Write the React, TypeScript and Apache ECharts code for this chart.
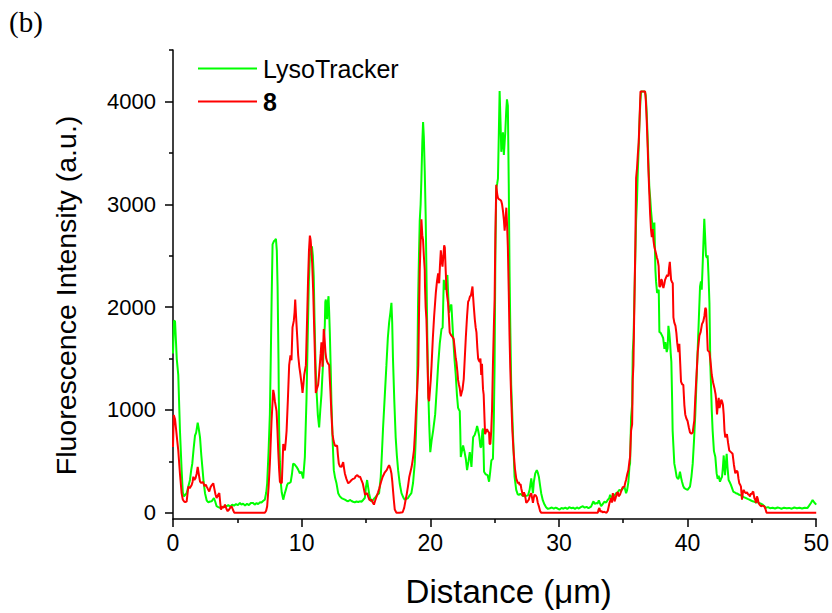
import React, { useEffect, useRef } from "react";
import * as echarts from "echarts";

// LysoTracker channel: [distance (µm), intensity (a.u.)]
const lysoTracker: [number, number][] = [
  [0,1550],[0.08,1870],[0.16,1860],[0.29,1500],[0.41,1340],[0.54,800],[0.67,415],[0.76,200],[0.85,160],[0.95,175],[1.06,190],[1.2,260],[1.32,320],[1.42,420],[1.5,480],[1.6,620],[1.71,750],[1.8,780],[1.92,877],[2.0,820],[2.1,734],[2.2,560],[2.28,447],[2.38,300],[2.49,191],[2.62,120],[2.75,102],[2.88,110],[3.0,112],[3.1,130],[3.18,144],[3.28,110],[3.39,64],[3.52,55],[3.65,48],[3.8,60],[3.95,55],[4.05,70],[4.17,64],[4.3,75],[4.45,60],[4.6,80],[4.75,70],[4.9,85],[5.05,75],[5.2,96],[5.32,80],[5.45,90],[5.6,70],[5.75,88],[5.9,75],[6.05,95],[6.23,96],[6.35,80],[6.5,95],[6.62,85],[6.75,102],[6.88,100],[7.0,115],[7.14,128],[7.25,200],[7.32,287],[7.43,600],[7.53,957],[7.6,1500],[7.67,2100],[7.74,2610],[7.84,2640],[7.93,2650],[8.0,2665],[8.07,2550],[8.13,2200],[8.2,1500],[8.25,800],[8.31,500],[8.36,319],[8.45,200],[8.57,128],[8.67,180],[8.77,223],[8.87,270],[8.95,287],[9.05,290],[9.15,300],[9.25,380],[9.34,478],[9.45,470],[9.6,447],[9.73,420],[9.86,383],[9.98,400],[10.12,335],[10.25,542],[10.38,1117],[10.47,1700],[10.56,2250],[10.64,2500],[10.72,2560],[10.8,2590],[10.87,2500],[10.94,2300],[11.0,1900],[11.08,1450],[11.16,1180],[11.26,950],[11.36,830],[11.45,1000],[11.54,1149],[11.6,1300],[11.67,1468],[11.74,1700],[11.8,1818],[11.84,2050],[11.88,2074],[11.93,1950],[11.98,1882],[12.04,2050],[12.09,2106],[12.14,1950],[12.19,1755],[12.26,1400],[12.32,1053],[12.41,700],[12.5,415],[12.6,340],[12.71,287],[12.84,191],[12.97,160],[13.1,144],[13.23,135],[13.36,128],[13.49,118],[13.62,112],[13.75,125],[13.88,115],[14.0,108],[14.13,102],[14.26,110],[14.4,105],[14.52,112],[14.65,108],[14.78,125],[14.91,144],[15.0,250],[15.09,319],[15.17,250],[15.24,191],[15.33,140],[15.42,109],[15.55,125],[15.68,144],[15.85,170],[16.02,191],[16.15,351],[16.24,580],[16.33,830],[16.46,1130],[16.59,1436],[16.7,1700],[16.8,1850],[16.9,1950],[16.98,2042],[17.04,1850],[17.1,1500],[17.2,1100],[17.31,734],[17.4,560],[17.5,415],[17.63,280],[17.76,191],[17.9,150],[18.01,128],[18.14,135],[18.27,144],[18.4,170],[18.53,191],[18.66,290],[18.79,478],[18.88,750],[18.97,1117],[19.05,2040],[19.12,2500],[19.18,2840],[19.25,3000],[19.31,3250],[19.38,3600],[19.44,3800],[19.5,3650],[19.57,3320],[19.64,2900],[19.7,2360],[19.77,1700],[19.83,1245],[19.92,850],[20.0,590],[20.1,700],[20.22,797],[20.38,957],[20.5,1200],[20.61,1436],[20.74,1650],[20.87,1786],[20.96,1800],[21.05,2265],[21.12,2200],[21.2,2170],[21.27,2250],[21.33,2313],[21.4,2100],[21.46,1946],[21.55,2000],[21.64,2026],[21.77,1723],[21.88,1500],[21.98,1340],[22.07,1150],[22.16,1021],[22.24,1000],[22.29,990],[22.33,800],[22.37,542],[22.46,600],[22.55,654],[22.65,600],[22.76,526],[22.86,415],[22.97,500],[23.07,590],[23.14,520],[23.2,447],[23.27,600],[23.33,734],[23.46,760],[23.56,800],[23.64,845],[23.72,800],[23.8,750],[23.9,638],[23.96,640],[24.05,797],[24.1,820],[24.18,399],[24.3,375],[24.45,367],[24.57,303],[24.66,400],[24.75,510],[24.87,526],[24.94,900],[25.0,1436],[25.06,2500],[25.13,3160],[25.2,3200],[25.26,3250],[25.33,3700],[25.39,4100],[25.46,3800],[25.52,3510],[25.58,3600],[25.65,3700],[25.72,3480],[25.78,3600],[25.83,3700],[25.9,3900],[25.96,4020],[26.03,3960],[26.1,3200],[26.16,2360],[26.22,1800],[26.29,1244],[26.42,797],[26.55,351],[26.68,223],[26.8,180],[26.89,175],[27.0,185],[27.1,175],[27.2,165],[27.33,160],[27.46,165],[27.6,170],[27.72,223],[27.85,335],[27.92,250],[27.98,191],[28.05,300],[28.16,383],[28.28,415],[28.36,390],[28.44,351],[28.53,270],[28.62,191],[28.75,120],[28.88,80],[29.0,55],[29.14,38],[29.3,45],[29.45,52],[29.6,40],[29.75,50],[29.9,42],[30.05,32],[30.2,48],[30.35,40],[30.5,50],[30.65,38],[30.8,55],[30.95,45],[31.1,50],[31.25,38],[31.4,52],[31.55,42],[31.7,55],[31.86,64],[32.0,50],[32.15,58],[32.3,45],[32.5,60],[32.6,90],[32.69,112],[32.79,85],[32.89,96],[33.0,90],[33.1,121],[33.2,90],[33.28,64],[33.4,85],[33.54,109],[33.67,100],[33.8,128],[33.9,140],[33.98,175],[34.08,150],[34.19,160],[34.32,170],[34.45,191],[34.57,200],[34.7,223],[34.8,215],[34.91,230],[35.0,240],[35.09,255],[35.22,191],[35.3,220],[35.4,300],[35.48,447],[35.53,478],[35.61,925],[35.69,1053],[35.74,1563],[35.8,1700],[35.87,2100],[35.94,2500],[36.0,2839],[36.07,3050],[36.13,3318],[36.2,3550],[36.26,3796],[36.33,4000],[36.39,4096],[36.5,4096],[36.6,4096],[36.68,4096],[36.75,4060],[36.82,3900],[36.9,3637],[36.96,3400],[37.03,3158],[37.1,3050],[37.16,2935],[37.22,2850],[37.29,2776],[37.36,2750],[37.42,2823],[37.5,2361],[37.55,2250],[37.63,2137],[37.68,2138],[37.76,2170],[37.81,1755],[37.89,1754],[38.02,1723],[38.1,1700],[38.2,1595],[38.28,1659],[38.38,1563],[38.45,1600],[38.51,1818],[38.58,1750],[38.64,1659],[38.69,1550],[38.74,1467],[38.8,1100],[38.84,797],[38.9,650],[38.97,478],[39.06,420],[39.15,351],[39.24,330],[39.31,335],[39.41,399],[39.5,340],[39.57,303],[39.66,260],[39.75,239],[39.88,230],[40.0,223],[40.1,240],[40.19,255],[40.3,350],[40.4,478],[40.5,700],[40.6,957],[40.7,1300],[40.79,1595],[40.88,1900],[40.97,2201],[41.04,2250],[41.1,2170],[41.17,2400],[41.23,2616],[41.3,2860],[41.36,2700],[41.43,2500],[41.5,2480],[41.56,2504],[41.63,2300],[41.7,2042],[41.77,1436],[41.82,1250],[41.88,1000],[41.95,797],[42.05,600],[42.16,542],[42.26,383],[42.34,330],[42.42,360],[42.52,303],[42.6,330],[42.68,351],[42.75,450],[42.81,558],[42.86,450],[42.91,367],[42.97,470],[43.04,574],[43.1,450],[43.19,319],[43.27,300],[43.37,271],[43.46,240],[43.55,207],[43.65,200],[43.76,191],[43.9,185],[44.02,175],[44.15,170],[44.28,160],[44.4,150],[44.54,144],[44.67,135],[44.8,128],[44.93,120],[45.06,112],[45.2,108],[45.32,100],[45.45,105],[45.57,96],[45.7,90],[45.83,80],[45.96,65],[46.09,48],[46.25,55],[46.4,45],[46.61,50],[46.8,42],[47.0,52],[47.13,48],[47.3,40],[47.5,50],[47.7,44],[47.9,48],[48.1,40],[48.3,52],[48.5,45],[48.7,50],[48.9,42],[49.1,50],[49.33,48],[49.45,70],[49.59,96],[49.72,124],[49.85,100],[50,80]
];

// Compound 8 channel: [distance (µm), intensity (a.u.)]
const probe8: [number, number][] = [
  [0,640],[0.06,950],[0.16,909],[0.25,800],[0.33,700],[0.41,606],[0.54,380],[0.67,191],[0.76,130],[0.85,112],[0.95,105],[1.06,109],[1.19,255],[1.3,240],[1.45,271],[1.52,300],[1.58,351],[1.66,320],[1.76,340],[1.84,380],[1.92,447],[2.0,380],[2.1,303],[2.2,290],[2.3,300],[2.36,290],[2.45,260],[2.55,275],[2.62,255],[2.72,230],[2.82,207],[2.92,250],[3.02,270],[3.13,287],[3.22,230],[3.3,180],[3.39,144],[3.48,170],[3.6,191],[3.67,100],[3.73,32],[3.85,60],[3.95,50],[4.04,80],[4.15,40],[4.25,16],[4.35,30],[4.45,50],[4.56,64],[4.66,30],[4.75,5],[4.81,0],[5.5,0],[6.3,0],[7.14,0],[7.24,20],[7.32,64],[7.43,250],[7.53,478],[7.66,893],[7.79,1196],[7.86,1150],[7.92,1085],[8.05,989],[8.12,800],[8.18,606],[8.25,420],[8.31,303],[8.38,290],[8.46,293],[8.52,500],[8.57,670],[8.63,640],[8.7,606],[8.77,700],[8.83,797],[8.93,1100],[9.03,1436],[9.13,1532],[9.21,1484],[9.29,1803],[9.39,1866],[9.45,1950],[9.5,2074],[9.55,1950],[9.6,1835],[9.67,1680],[9.73,1532],[9.82,1420],[9.91,1340],[10.0,1250],[10.07,1165],[10.14,1250],[10.2,1340],[10.33,1436],[10.43,1914],[10.5,2265],[10.57,2550],[10.64,2696],[10.7,2650],[10.76,2550],[10.82,2424],[10.9,2150],[10.97,1818],[11.05,1450],[11.1,1165],[11.17,1200],[11.28,1244],[11.35,1340],[11.41,1436],[11.48,1550],[11.54,1659],[11.58,1550],[11.62,1420],[11.67,1600],[11.72,1786],[11.78,1700],[11.85,1563],[11.91,1500],[11.98,1468],[12.06,1450],[12.14,1436],[12.19,1300],[12.24,1180],[12.32,950],[12.4,765],[12.48,700],[12.58,654],[12.67,650],[12.76,654],[12.82,560],[12.89,478],[12.98,450],[13.1,447],[13.16,470],[13.23,494],[13.3,430],[13.36,383],[13.48,330],[13.62,287],[13.75,300],[13.88,319],[14.0,330],[14.12,335],[14.2,355],[14.33,367],[14.44,350],[14.54,351],[14.64,320],[14.75,287],[14.84,230],[14.93,175],[15.02,185],[15.1,191],[15.17,160],[15.26,128],[15.35,120],[15.44,128],[15.53,100],[15.62,80],[15.72,120],[15.83,160],[15.94,200],[16.04,239],[16.17,300],[16.3,351],[16.45,390],[16.61,415],[16.7,440],[16.8,463],[16.9,430],[16.98,383],[17.05,300],[17.1,223],[17.17,120],[17.24,32],[17.37,0],[17.6,0],[17.85,6],[17.97,48],[18.06,110],[18.16,175],[18.27,260],[18.37,351],[18.46,400],[18.55,447],[18.64,520],[18.73,606],[18.82,800],[18.89,989],[18.98,1200],[19.07,1436],[19.12,1900],[19.18,2361],[19.24,2600],[19.31,2855],[19.38,2700],[19.44,2648],[19.5,2500],[19.57,2361],[19.59,2200],[19.64,2000],[19.7,1882],[19.76,1600],[19.85,1117],[19.91,1085],[19.98,1200],[20.04,1300],[20.1,1436],[20.2,1700],[20.3,1914],[20.43,2138],[20.52,2250],[20.61,2329],[20.66,2250],[20.69,2233],[20.75,2400],[20.82,2552],[20.88,2450],[20.95,2393],[21.02,2500],[21.08,2600],[21.13,2580],[21.2,2350],[21.26,2170],[21.32,2100],[21.38,2042],[21.45,1900],[21.51,1755],[21.6,1730],[21.74,1707],[21.82,1690],[21.9,1600],[21.98,1500],[22.03,1468],[22.1,1380],[22.16,1292],[22.22,1250],[22.29,1212],[22.37,1133],[22.44,1170],[22.5,1196],[22.6,1300],[22.68,1500],[22.76,1700],[22.86,1914],[22.94,2050],[23.02,2074],[23.1,2110],[23.15,2106],[23.21,2150],[23.28,2201],[23.33,2100],[23.38,2010],[23.46,1882],[23.53,1800],[23.59,1755],[23.66,1600],[23.72,1500],[23.78,1480],[23.85,1468],[23.9,1500],[23.96,1340],[24.02,1450],[24.05,1340],[24.1,1200],[24.15,1149],[24.22,900],[24.26,765],[24.3,765],[24.41,814],[24.5,790],[24.57,780],[24.61,670],[24.67,670],[24.74,797],[24.8,1000],[24.87,1436],[24.94,1800],[25.0,2074],[25.06,2700],[25.13,3190],[25.2,3100],[25.26,3062],[25.33,3050],[25.39,3046],[25.46,3040],[25.52,3030],[25.58,3000],[25.65,2935],[25.72,2850],[25.78,2744],[25.85,2850],[25.91,2967],[25.97,2800],[26.03,2584],[26.1,2150],[26.16,1723],[26.22,1400],[26.29,1117],[26.38,800],[26.47,606],[26.58,430],[26.68,335],[26.81,287],[26.88,300],[26.94,271],[27.02,280],[27.07,239],[27.14,200],[27.2,160],[27.28,200],[27.36,175],[27.46,96],[27.56,110],[27.66,128],[27.75,170],[27.85,191],[27.92,140],[27.98,96],[28.05,150],[28.1,175],[28.2,170],[28.28,150],[28.36,96],[28.45,60],[28.54,16],[28.63,0],[29.5,0],[30.5,0],[31.5,0],[32.5,0],[33.02,0],[33.08,30],[33.15,48],[33.22,10],[33.3,20],[33.4,5],[33.54,10],[33.7,0],[33.8,20],[33.93,96],[34.06,144],[34.12,100],[34.19,191],[34.26,160],[34.32,112],[34.4,140],[34.5,190],[34.58,200],[34.64,160],[34.76,180],[34.83,207],[34.96,250],[35.09,255],[35.17,300],[35.22,319],[35.32,380],[35.4,415],[35.48,500],[35.53,542],[35.61,800],[35.69,861],[35.74,1300],[35.79,1436],[35.87,2074],[35.94,2600],[36.0,3254],[36.07,3350],[36.13,3477],[36.2,3600],[36.26,3796],[36.34,4096],[36.45,4096],[36.55,4096],[36.7,4096],[36.76,4000],[36.83,3796],[36.9,3550],[36.96,3318],[37.03,3100],[37.09,2903],[37.16,2750],[37.22,2680],[37.29,2760],[37.35,2650],[37.42,2584],[37.49,2550],[37.55,2520],[37.62,2480],[37.68,2456],[37.75,2400],[37.81,2201],[37.89,2201],[37.94,2265],[38.0,2265],[38.06,2220],[38.12,2185],[38.2,2230],[38.25,2265],[38.33,2290],[38.41,2313],[38.51,2300],[38.56,2380],[38.62,2440],[38.67,2350],[38.72,2265],[38.8,2240],[38.85,2233],[38.9,1900],[38.97,1850],[39.06,1818],[39.13,1750],[39.19,1659],[39.25,1600],[39.29,1563],[39.36,1643],[39.43,1450],[39.49,1276],[39.58,1250],[39.67,1244],[39.75,1050],[39.82,957],[39.9,920],[40.0,893],[40.1,830],[40.19,781],[40.3,770],[40.4,781],[40.47,850],[40.52,893],[40.6,1117],[40.7,1350],[40.79,1563],[40.86,1650],[40.92,1723],[41.02,1760],[41.12,1835],[41.22,1860],[41.31,1914],[41.38,1994],[41.44,1978],[41.5,1800],[41.57,1579],[41.64,1570],[41.7,1563],[41.8,1450],[41.88,1340],[41.98,1270],[42.09,1212],[42.18,1150],[42.22,1100],[42.29,957],[42.35,1050],[42.42,1117],[42.48,1020],[42.55,1053],[42.62,1100],[42.68,1085],[42.75,1050],[42.81,957],[42.87,800],[42.93,734],[43.0,750],[43.06,765],[43.15,680],[43.24,606],[43.37,590],[43.5,574],[43.6,470],[43.71,383],[43.8,410],[43.89,399],[43.96,330],[44.02,287],[44.1,270],[44.15,255],[44.23,128],[44.3,200],[44.36,223],[44.45,200],[44.54,191],[44.62,200],[44.7,180],[44.78,175],[44.85,160],[44.92,190],[44.98,180],[45.05,200],[45.11,207],[45.19,144],[45.26,128],[45.32,96],[45.39,160],[45.45,140],[45.52,96],[45.6,80],[45.7,64],[45.8,70],[45.96,64],[46.05,40],[46.14,0],[47,0],[48,0],[49,0],[50,0]
];

const seriesNames = ["LysoTracker", "8"];
const seriesColors = ["#00ff00", "#ff0000"];
const yMajorTicks = [0, 1000, 2000, 3000, 4000];
const yMinorTicks = [500, 1500, 2500, 3500, 4500];

const FONT = "'Liberation Sans', Arial, sans-serif";

export default function App() {
  const ref = useRef<HTMLDivElement>(null);
  useEffect(() => {
    if (!ref.current) return;
    const chart = echarts.init(ref.current, null, { renderer: "svg" });
    const axisLine = { show: true, onZero: false, lineStyle: { color: "#000", width: 1.5 } };
    chart.setOption({
      animation: false,
      backgroundColor: "#ffffff",
      textStyle: { fontFamily: FONT, color: "#000" },
      grid: { left: 173, right: 15, top: 50, bottom: 87, containLabel: false },
      graphic: [
        {
          type: "text",
          left: 9,
          top: 7,
          style: {
            text: "(b)",
            fontSize: 29,
            fontFamily: "'Liberation Serif', 'Times New Roman', serif",
            fill: "#000",
          },
        },
      ],
      legend: {
        data: seriesNames.map((n) => ({ name: n, icon: "rect" })),
        orient: "vertical",
        left: 193,
        top: 51,
        itemWidth: 59,
        itemHeight: 2,
        itemGap: 8,
        textStyle: {
          fontFamily: FONT,
          fontSize: 25,
          color: "#000",
          rich: {
            n: { fontFamily: FONT, fontSize: 25, color: "#000", padding: [0, 0, 0, 1] },
            b: { fontFamily: FONT, fontSize: 25, fontWeight: "bold", color: "#000", padding: [0, 0, 0, 1] },
          },
        },
        formatter: (name: string) => (name === "8" ? `{b|${name}}` : `{n|${name}}`),
      },
      xAxis: {
        type: "value",
        min: 0,
        max: 50,
        interval: 10,
        axisLine,
        axisTick: { show: true, inside: false, length: 8, lineStyle: { color: "#000", width: 1.5 } },
        minorTick: { show: true, splitNumber: 2, length: 4, lineStyle: { color: "#000", width: 1.5 } },
        axisLabel: { fontFamily: FONT, fontSize: 23, color: "#000", margin: 12 },
        splitLine: { show: false },
        minorSplitLine: { show: false },
        name: "Distance (μm)",
        nameLocation: "middle",
        nameGap: 56,
        nameTextStyle: { fontFamily: FONT, fontSize: 33, color: "#000", padding: [0, 0, 0, 28] },
      },
      yAxis: [
        {
          type: "value",
          min: -60,
          max: 4500,
          position: "left",
          axisLine,
          axisTick: { show: true, length: 8, customValues: yMajorTicks, lineStyle: { color: "#000", width: 1.5 } },
          axisLabel: {
            fontFamily: FONT,
            fontSize: 22,
            color: "#000",
            margin: 17,
            customValues: yMajorTicks,
            formatter: (v: number) => String(v),
          },
          splitLine: { show: false },
          name: "Fluorescence Intensity (a.u.)",
          nameLocation: "middle",
          nameGap: 93,
          nameTextStyle: { fontFamily: FONT, fontSize: 28.5, color: "#000", padding: [0, 22, 0, 0] },
        },
        {
          type: "value",
          min: -60,
          max: 4500,
          position: "left",
          axisLine: { show: false, onZero: false },
          axisTick: { show: true, length: 4, customValues: yMinorTicks, lineStyle: { color: "#000", width: 1.5 } },
          axisLabel: { show: false },
          splitLine: { show: false },
        },
      ],
      series: [
        {
          name: seriesNames[0],
          type: "line",
          data: lysoTracker,
          symbol: "none",
          showSymbol: false,
          color: seriesColors[0],
          lineStyle: { color: seriesColors[0], width: 2 },
          z: 2,
        },
        {
          name: seriesNames[1],
          type: "line",
          data: probe8,
          symbol: "none",
          showSymbol: false,
          color: seriesColors[1],
          lineStyle: { color: seriesColors[1], width: 2 },
          z: 3,
        },
      ],
    });
    return () => chart.dispose();
  }, []);
  return <div ref={ref} style={{ position: "absolute", left: 0, top: 0, width: 832, height: 613 }} />;
}
